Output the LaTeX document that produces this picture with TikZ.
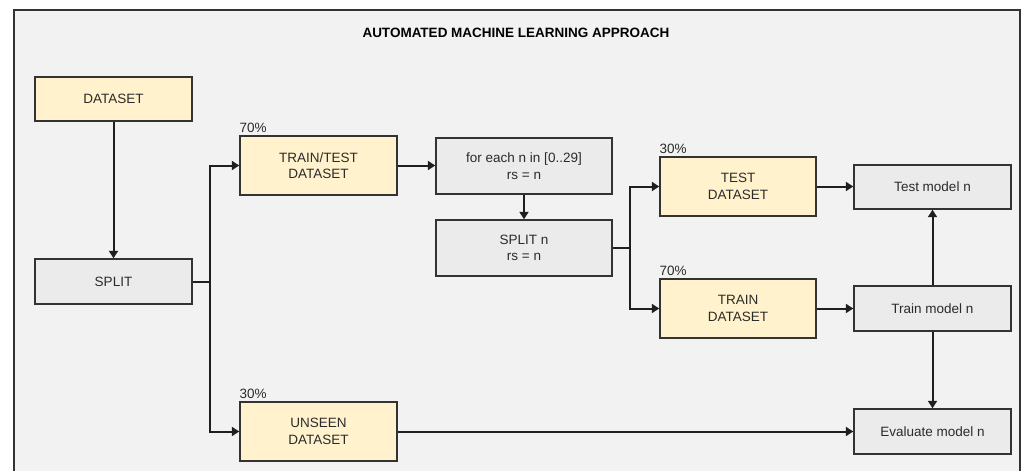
\documentclass[tikz,border=0pt]{standalone}
\usepackage{fontspec}
\setmainfont{Liberation Sans}
\usetikzlibrary{arrows.meta}
\definecolor{bgc}{HTML}{F2F2F2}
\definecolor{ylw}{HTML}{FFF2CC}
\definecolor{gry}{HTML}{EBEBEB}
\definecolor{edge}{HTML}{333333}
\definecolor{txt}{HTML}{2B2B2B}
\tikzset{
  box/.style={draw=edge, line width=1.4pt, align=center, text=txt, inner sep=0pt,
    font=\fontsize{13.5}{16.5}\selectfont},
  ybox/.style={box, fill=ylw},
  gbox/.style={box, fill=gry},
  conn/.style={draw=black!88, line width=2pt},
  arr/.style={conn, -{Triangle[length=7.5pt,width=9pt]}},
  pct/.style={anchor=south west, inner xsep=0pt, inner ysep=2pt, text=txt,
    font=\fontsize{13.5}{16}\selectfont},
}
\begin{document}
\begin{tikzpicture}[x=1pt,y=-1pt]
\clip (0,0) rectangle (1034,471);
\fill[white] (0,0) rectangle (1034,471);
\draw[draw=edge, line width=1.4pt, fill=bgc] (14,10) rectangle (1020,490);
\node[font=\bfseries\fontsize{13.5}{16}\selectfont, text=black] (title) at (516,33) {AUTOMATED MACHINE LEARNING APPROACH};

\node[ybox, minimum width=157pt, minimum height=44pt] (dataset) at (113.5,99) {DATASET};
\node[gbox, minimum width=157pt, minimum height=45pt] (split) at (113.5,281.5) {SPLIT};
\node[ybox, minimum width=157pt, minimum height=59pt] (traintest) at (318.5,165.5) {TRAIN/TEST\\DATASET};
\node[ybox, minimum width=157pt, minimum height=59pt] (unseen) at (318.5,431.5) {UNSEEN\\DATASET};
\node[gbox, minimum width=176pt, minimum height=56pt] (foreach) at (524,166) {for each n in [0..29]\\rs = n};
\node[gbox, minimum width=176pt, minimum height=56pt] (splitn) at (524,248) {SPLIT n\\rs = n};
\node[ybox, minimum width=156pt, minimum height=59pt] (test) at (738,186.5) {TEST\\DATASET};
\node[ybox, minimum width=156pt, minimum height=59pt] (train) at (738,308.5) {TRAIN\\DATASET};
\node[gbox, minimum width=157pt, minimum height=44pt] (testmodel) at (932.5,187) {Test model n};
\node[gbox, minimum width=157pt, minimum height=45pt] (trainmodel) at (932.5,308.5) {Train model n};
\node[gbox, minimum width=157pt, minimum height=45pt] (evalmodel) at (932.5,431.5) {Evaluate model n};

\node[pct] (p1) at (traintest.north west) {70\%};
\node[pct] (p2) at (unseen.north west) {30\%};
\node[pct] (p3) at (test.north west) {30\%};
\node[pct] (p4) at (train.north west) {70\%};

\coordinate (sb) at (210,281.5);
\coordinate (sb2) at (630,248);

\draw[arr] (dataset.south) -- (split.north);
\draw[conn] (split.east) -- (sb);
\draw[arr] (sb) |- (traintest.west);
\draw[arr] (sb) |- (unseen.west);
\draw[arr] (traintest.east) -- (traintest.east -| foreach.west);
\draw[arr] (foreach.south) -- (splitn.north);
\draw[conn] (splitn.east) -- (sb2);
\draw[arr] (sb2) |- (test.west);
\draw[arr] (sb2) |- (train.west);
\draw[arr] (test.east) -- (test.east -| testmodel.west);
\draw[arr] (train.east) -- (trainmodel.west);
\draw[arr] (trainmodel.north) -- (testmodel.south);
\draw[arr] (trainmodel.south) -- (evalmodel.north);
\draw[arr] (unseen.east) -- (evalmodel.west);
\end{tikzpicture}
\end{document}
